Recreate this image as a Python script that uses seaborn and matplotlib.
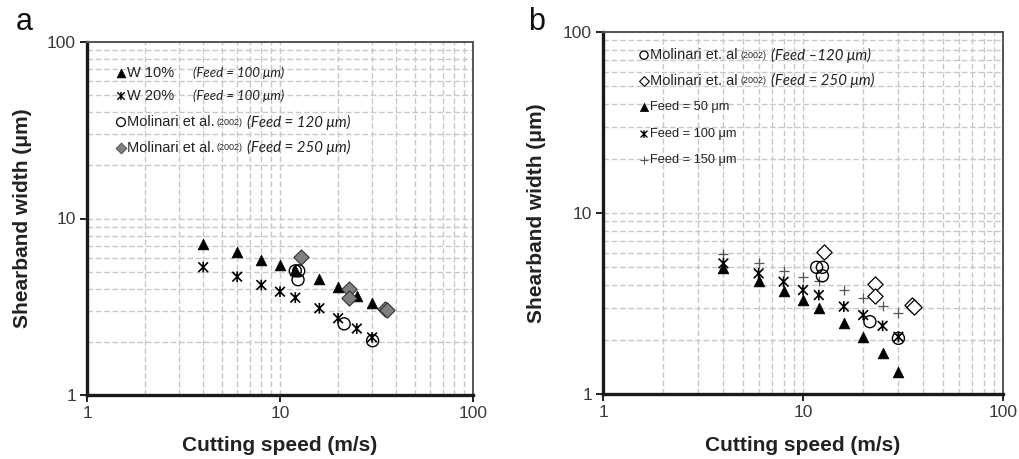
import numpy as np
import pandas as pd
import matplotlib
matplotlib.use("Agg")
import matplotlib.pyplot as plt
import seaborn as sns
from matplotlib.path import Path
from matplotlib.ticker import FixedLocator, NullFormatter, FuncFormatter

# ---------------- data ----------------
# Panel a
a_speed = [4, 6, 8, 10, 12, 16, 20, 25, 30]
a_w10 = [7.2, 6.45, 5.85, 5.45, 5.1, 4.55, 4.1, 3.65, 3.32]
a_w20 = [5.3, 4.68, 4.2, 3.85, 3.56, 3.1, 2.72, 2.38, 2.12]
mol120_speed = [12.0, 12.5, 12.4, 21.5, 30.2]
mol120_width = [5.05, 5.05, 4.5, 2.53, 2.03]
mol250_speed = [12.8, 22.9, 22.9, 35.0, 36.0]
mol250_width = [6.03, 3.99, 3.53, 3.08, 3.02]

# Panel b
b_speed = [4, 6, 8, 10, 12, 16, 20, 25, 30]
b_feed50 = [4.95, 4.21, 3.71, 3.31, 3.0, 2.46, 2.06, 1.68, 1.33]
b_feed100 = [5.27, 4.64, 4.17, 3.75, 3.52, 3.04, 2.73, 2.38, 2.07]
b_feed150 = [5.94, 5.32, 4.78, 4.45, 4.23, 3.75, 3.4, 3.08, 2.79]
b_mol120_speed = [11.7, 12.5, 12.5, 21.6, 30.0]
b_mol120_width = [5.01, 5.01, 4.5, 2.51, 2.03]
b_mol250_speed = [12.8, 22.9, 22.9, 35.0, 36.0]
b_mol250_width = [6.07, 4.04, 3.48, 3.1, 3.02]

tick_values = [1, 10, 100]

# ---------------- style ----------------
sns.set_style("white")
plt.rcParams['font.family'] = ['Liberation Sans', 'DejaVu Sans']

star = Path([(-0.9, -0.9), (0.9, 0.9), (-0.9, 0.9), (0.9, -0.9), (0, -1.0), (0, 1.0)],
            [Path.MOVETO, Path.LINETO, Path.MOVETO, Path.LINETO, Path.MOVETO, Path.LINETO])

fig = plt.figure(figsize=(10.19, 4.59), dpi=100)
ax_a = fig.add_axes([87 / 1019, 1 - 395 / 459, 386 / 1019, 353 / 459])
ax_b = fig.add_axes([603 / 1019, 1 - 394 / 459, 400 / 1019, 362 / 459])


def style_axes(ax, xlab_y, ylab_x):
    ax.set_xscale("log")
    ax.set_yscale("log")
    ax.set_xlim(1, 100)
    ax.set_ylim(1, 100)
    minor = [m * d for d in (1, 10) for m in range(2, 10)]
    ax.xaxis.set_major_locator(FixedLocator(tick_values))
    ax.yaxis.set_major_locator(FixedLocator(tick_values))
    ax.xaxis.set_minor_locator(FixedLocator(minor))
    ax.yaxis.set_minor_locator(FixedLocator(minor))
    ax.xaxis.set_minor_formatter(NullFormatter())
    ax.yaxis.set_minor_formatter(NullFormatter())
    fmt = FuncFormatter(lambda v, p: f"{v:g}")
    ax.xaxis.set_major_formatter(fmt)
    ax.yaxis.set_major_formatter(fmt)
    ax.grid(True, which="both", color="#c8c8c8", linestyle=(0, (4, 2)), linewidth=1.0)
    ax.set_axisbelow(True)
    ax.tick_params(which="major", direction="out", length=5, width=1.4, color="#222222",
                   labelsize=12.5, labelcolor="#3a3a3a", bottom=True, left=True, pad=3)
    ax.tick_params(which="minor", length=0)
    for s in ("left", "bottom"):
        ax.spines[s].set_linewidth(2.4)
        ax.spines[s].set_color("#1a1a1a")
    for s in ("top", "right"):
        ax.spines[s].set_linewidth(1.4)
        ax.spines[s].set_color("#555555")
    ax.set_xlabel("Cutting speed (m/s)", fontsize=15, fontweight="bold", color="#222222")
    ax.set_ylabel("Shearband width (\u03bcm)", fontsize=15, fontweight="bold", color="#222222")
    ax.xaxis.set_label_coords(0.5, xlab_y)
    ax.yaxis.set_label_coords(ylab_x, 0.5)
    ax.xaxis.label.set_va("center")
    ax.yaxis.label.set_va("center")


def pts(ax, x, y, marker, s, face, edge, lw=1.0, z=3):
    df = pd.DataFrame({"x": x, "y": y})
    if face is None:
        sns.scatterplot(data=df, x="x", y="y", ax=ax, marker=marker, s=s, color=edge,
                        linewidths=lw, zorder=z, legend=False)
    else:
        sns.scatterplot(data=df, x="x", y="y", ax=ax, marker=marker, s=s, facecolor=face,
                        edgecolor=edge, linewidth=lw, zorder=z, legend=False)


# ---------------- panel a ----------------
pts(ax_a, a_speed, a_w10, "^", 60, "black", "black", 0.5)
pts(ax_a, a_speed, a_w20, star, 60, "none", "black", 1.2)
pts(ax_a, mol120_speed, mol120_width, "o", 75, "none", "black", 1.0)
pts(ax_a, mol250_speed, mol250_width, "D", 60, "#808080", "#333333", 0.8)
style_axes(ax_a, -0.142, -0.166)

# ---------------- panel b ----------------
pts(ax_b, b_speed, b_feed150, "+", 60, None, "#555555", 0.9)
pts(ax_b, b_speed, b_feed100, star, 60, "none", "black", 1.2)
pts(ax_b, b_speed, b_feed50, "^", 60, "black", "black", 0.5)
pts(ax_b, b_mol120_speed, b_mol120_width, "o", 75, "none", "black", 1.0)
pts(ax_b, b_mol250_speed, b_mol250_width, "D", 60, "white", "black", 0.9)
style_axes(ax_b, -0.141, -0.165)

# ---------------- legends (hand-drawn, no frame) ----------------
ital_small = dict(family=["Lato", "DejaVu Sans"], style="italic", fontsize=9.5, color="#222222", va="center")
ital_big = dict(family=["Lato", "DejaVu Sans"], style="italic", fontsize=10.8, color="#222222", va="center")
main = dict(fontsize=10.5, color="#222222", va="center")
main_b = dict(fontsize=9.2, color="#222222", va="center")
small = dict(fontsize=6.5, color="#222222", va="center")

renderer = fig.canvas.get_renderer()


def legend_marker(ax, xf, yf, marker, s, face, edge, lw):
    if face is None:
        ax.scatter([xf], [yf], transform=ax.transAxes, marker=marker, s=s, c=edge,
                   linewidths=lw, zorder=5, clip_on=False)
    else:
        ax.scatter([xf], [yf], transform=ax.transAxes, marker=marker, s=s, facecolor=face,
                   edgecolor=edge, linewidths=lw, zorder=5, clip_on=False)


def chain(ax, xf, yf, parts):
    """Place text parts one after the other (gap in pixels)."""
    x_px = ax.transAxes.transform((xf, yf))[0]
    for txt, props, gap in parts:
        x_px += gap
        xa = ax.transAxes.inverted().transform((x_px, 0))[0]
        t = ax.text(xa, yf, txt, transform=ax.transAxes, **props)
        bb = t.get_window_extent(renderer=renderer)
        x_px = bb.x1


# panel a legend
rows_a = [0.912, 0.847, 0.773, 0.700]
legend_marker(ax_a, 0.088, rows_a[0], "^", 40, "black", "black", 0.5)
legend_marker(ax_a, 0.088, rows_a[1], star, 35, "none", "black", 1.0)
legend_marker(ax_a, 0.088, rows_a[2], "o", 40, "none", "black", 0.9)
legend_marker(ax_a, 0.088, rows_a[3], "D", 30, "#808080", "#444444", 0.6)
ax_a.text(0.104, rows_a[0], "W 10%", transform=ax_a.transAxes, **main)
ax_a.text(0.104, rows_a[1], "W 20%", transform=ax_a.transAxes, **main)
ax_a.text(0.275, rows_a[0], "(Feed = 100 \u03bcm)", transform=ax_a.transAxes, **ital_small)
ax_a.text(0.275, rows_a[1], "(Feed = 100 \u03bcm)", transform=ax_a.transAxes, **ital_small)
chain(ax_a, 0.104, rows_a[2], [("Molinari et al.", main, 0), ("(2002)", small, 2),
                               ("(Feed = 120 \u03bcm)", ital_big, 4)])
chain(ax_a, 0.104, rows_a[3], [("Molinari et al.", main, 0), ("(2002)", small, 2),
                               ("(Feed = 250 \u03bcm)", ital_big, 4)])

# panel b legend
rows_b = [0.936, 0.865, 0.793, 0.718, 0.646]
legend_marker(ax_b, 0.1025, rows_b[0], "o", 35, "none", "black", 0.9)
legend_marker(ax_b, 0.1025, rows_b[1], "D", 25, "white", "black", 0.8)
legend_marker(ax_b, 0.1025, rows_b[2], "^", 35, "black", "black", 0.5)
legend_marker(ax_b, 0.1025, rows_b[3], star, 30, "none", "black", 1.0)
legend_marker(ax_b, 0.1025, rows_b[4], "+", 40, None, "#555555", 0.8)
chain(ax_b, 0.118, rows_b[0], [("Molinari et. al", main, 0), ("(2002)", small, 3),
                               ("(Feed \u2013120 \u03bcm)", ital_big, 4)])
chain(ax_b, 0.118, rows_b[1], [("Molinari et. al", main, 0), ("(2002)", small, 3),
                               ("(Feed = 250 \u03bcm)", ital_big, 4)])
ax_b.text(0.118, rows_b[2], "Feed = 50 \u03bcm", transform=ax_b.transAxes, **main_b)
ax_b.text(0.118, rows_b[3], "Feed = 100 \u03bcm", transform=ax_b.transAxes, **main_b)
ax_b.text(0.118, rows_b[4], "Feed = 150 \u03bcm", transform=ax_b.transAxes, **main_b)

# panel letters
fig.text(24 / 1019, 1 - 30 / 459, "a", fontsize=22, color="#111111", ha="center", va="baseline")
fig.text(537 / 1019, 1 - 30 / 459, "b", fontsize=22, color="#111111", ha="center", va="baseline")

fig.savefig("out.png", dpi=100)
